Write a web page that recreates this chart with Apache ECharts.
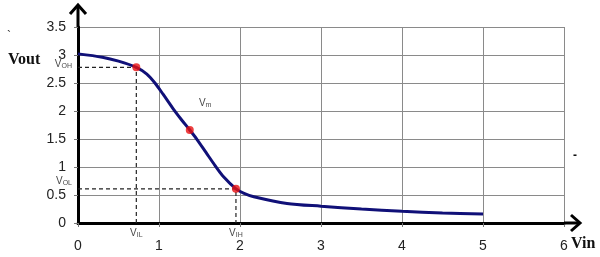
<!DOCTYPE html>
<html><head><meta charset="utf-8">
<script src="https://cdn.jsdelivr.net/npm/echarts@6/dist/echarts.min.js"></script>
<style>html,body{margin:0;padding:0;background:#fff}#c{width:600px;height:257px}</style>
</head><body><div id="c"></div>
<script>
// Transfer curve Vout vs Vin
var vin  = [0, 0.3, 0.5, 0.72, 0.85, 0.95, 1.05, 1.18, 1.28, 1.38, 1.47, 1.58, 1.69, 1.8, 1.95, 2.05, 2.17, 2.58, 3.0, 3.5, 4.0, 4.5, 5.0];
var vout = [3.02, 2.96, 2.89, 2.78, 2.66, 2.50, 2.30, 2.03, 1.84, 1.66, 1.49, 1.26, 1.03, 0.82, 0.61, 0.53, 0.47, 0.35, 0.30, 0.25, 0.21, 0.18, 0.16];
// key points: VOH/VIL, Vm, VIH/VOL
var keyX = [0.72, 1.38, 1.95];
var keyY = [2.78, 1.66, 0.61];
var xTicks = [0, 1, 2, 3, 4, 5, 6];
var yTicks = [0, 0.5, 1, 1.5, 2, 2.5, 3, 3.5];

var chart = echarts.init(document.getElementById('c'));
var curve = vin.map(function (v, i) { return [v, vout[i]]; });
var keys = keyX.map(function (v, i) { return [v, keyY[i]]; });
var dash1 = [[0, keyY[0]], [keyX[0], keyY[0]], [keyX[0], 0]];
var dash2 = [[0, keyY[2]], [keyX[2], keyY[2]], [keyX[2], 0]];

var subRich = {
  v: { fontSize: 10, fontFamily: 'Arial, Liberation Sans', color: '#111' },
  s: { fontSize: 7, fontFamily: 'Arial, Liberation Sans', color: '#111', padding: [4, 0, 0, 0] }
};
function ann(x, y, sub, pos, off) {
  return { value: [x, y], label: { show: true, position: pos, offset: off, formatter: '{v|V}{s|' + sub + '}', rich: subRich } };
}

chart.setOption({
  animation: false,
  grid: { left: 78, right: 36, top: 27, bottom: 34, containLabel: false },
  xAxis: {
    type: 'value', min: 0, max: 6, interval: 1,
    axisLine: { show: true, lineStyle: { color: '#000', width: 3 } },
    axisTick: { show: true, length: 4, lineStyle: { color: '#777' } },
    axisLabel: { color: '#222', fontSize: 14, fontFamily: 'Arial, Liberation Sans', margin: 16,
      formatter: function (v) { return xTicks.indexOf(v) >= 0 ? String(v) : ''; } },
    splitLine: { show: true, lineStyle: { color: '#8a8a8a', width: 1 } }
  },
  yAxis: {
    type: 'value', min: 0, max: 3.5, interval: 0.5,
    axisLine: { show: true, lineStyle: { color: '#000', width: 3 } },
    axisTick: { show: true, length: 4, lineStyle: { color: '#777' } },
    axisLabel: { color: '#222', fontSize: 14, fontFamily: 'Arial, Liberation Sans', margin: 12,
      formatter: function (v) { return yTicks.indexOf(v) >= 0 ? String(v) : ''; } },
    splitLine: { show: true, lineStyle: { color: '#8a8a8a', width: 1 } }
  },
  series: [
    { type: 'line', data: dash1, symbol: 'none', lineStyle: { color: '#222', width: 1.2, type: [4, 3] }, z: 3 },
    { type: 'line', data: dash2, symbol: 'none', lineStyle: { color: '#222', width: 1.2, type: [4, 3] }, z: 3 },
    { type: 'line', data: curve, smooth: 0.3, symbol: 'none', lineStyle: { color: '#101078', width: 3 }, z: 4 },
    { type: 'scatter', data: keys, symbol: 'circle', symbolSize: 8, itemStyle: { color: '#e81010' }, z: 5 },
    { type: 'scatter', symbolSize: 0, clip: false, z: 6, data: [
      ann(0, keyY[0], 'OH', 'left', [-1, -3]),
      ann(0, keyY[2], 'OL', 'left', [-1, -8]),
      ann(keyX[0], 0, 'IL', 'bottom', [0, 0]),
      ann(keyX[2], 0, 'IH', 'bottom', [0, 0]),
      ann(1.57, 2.14, 'm', 'inside', [0, 0])
    ] }
  ]
});

// axis extensions with open arrow heads, positioned through the chart's scales
var o = chart.convertToPixel({ gridIndex: 0 }, [0, 0]);
var yt = chart.convertToPixel({ gridIndex: 0 }, [0, 3.5]);
var xr = chart.convertToPixel({ gridIndex: 0 }, [6, 0]);
var yTop = yt[1] - 22, xEnd = xr[0] + 16;
chart.setOption({
  graphic: [
    { type: 'line', shape: { x1: o[0], y1: yt[1], x2: o[0], y2: yTop }, style: { stroke: '#000', lineWidth: 3 }, z: 10 },
    { type: 'polyline', shape: { points: [[o[0] - 8, yTop + 9], [o[0], yTop], [o[0] + 8, yTop + 9]] }, style: { stroke: '#000', lineWidth: 3, fill: null }, z: 10 },
    { type: 'line', shape: { x1: xr[0], y1: o[1], x2: xEnd, y2: o[1] }, style: { stroke: '#000', lineWidth: 3 }, z: 10 },
    { type: 'polyline', shape: { points: [[xEnd - 9, o[1] - 8], [xEnd, o[1]], [xEnd - 9, o[1] + 8]] }, style: { stroke: '#000', lineWidth: 3, fill: null }, z: 10 },
    { type: 'text', left: 8, top: 52, style: { text: 'Vout', font: 'bold 16px "Liberation Serif", "DejaVu Serif", serif', fill: '#111' } },
    { type: 'text', left: 571, top: 236, style: { text: 'Vin', font: 'bold 16px "Liberation Serif", "DejaVu Serif", serif', fill: '#111' } },
    { type: 'text', left: 7, top: 31, style: { text: '`', font: '12px Arial', fill: '#333' } },
    { type: 'text', left: 573, top: 150, style: { text: '-', font: 'bold 12px Arial', fill: '#111' } }
  ]
});
</script>
</body></html>
